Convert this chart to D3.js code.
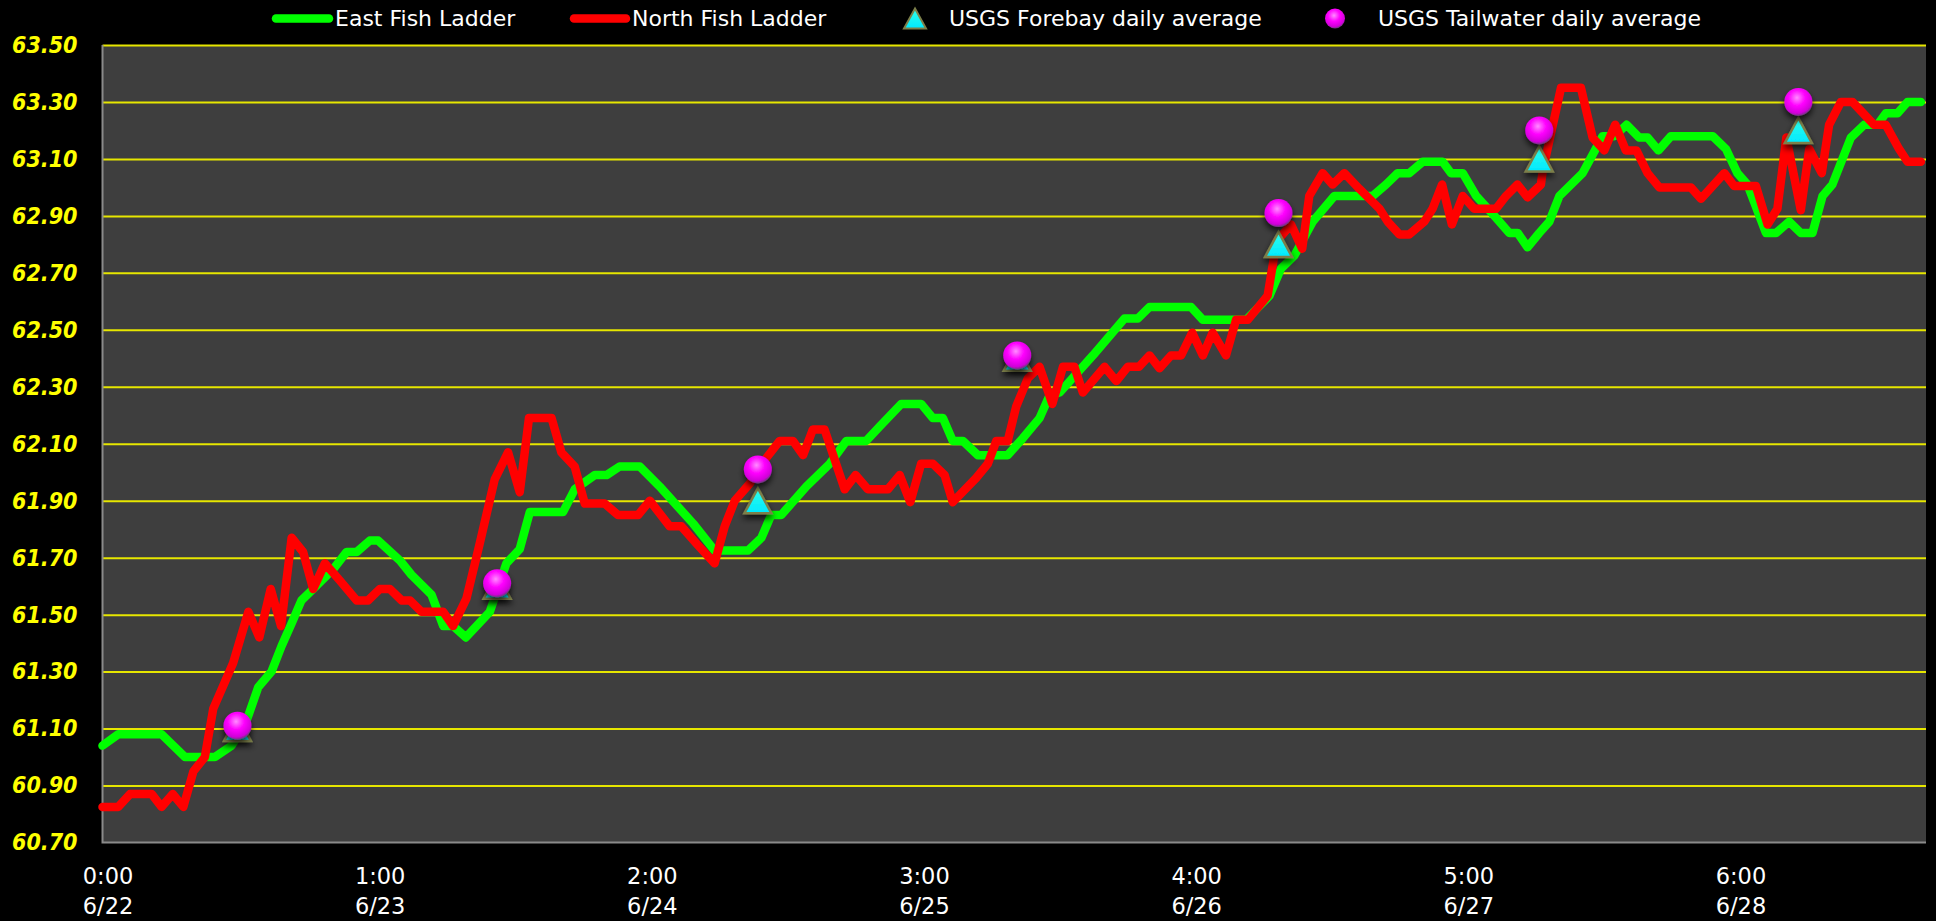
<!DOCTYPE html>
<html>
<head>
<meta charset="utf-8">
<script src="https://cdn.jsdelivr.net/npm/d3@7"></script>
<style>
  html, body { margin: 0; padding: 0; background: #000; }
  svg { display: block; }
</style>
</head>
<body>
<script>
// ---------------- DATA ----------------
// x = days since 6/22 0:00, y = water temperature (°F)
const eastFishLadder = [
  [0.000,61.04],[0.058,61.08],[0.217,61.08],[0.303,61.00],[0.413,61.00],[0.474,61.04],
  [0.523,61.11],[0.572,61.245],[0.621,61.30],[0.658,61.39],[0.695,61.47],[0.731,61.55],
  [0.774,61.59],[0.848,61.66],[0.897,61.72],[0.934,61.72],[0.982,61.76],[1.013,61.76],
  [1.093,61.69],[1.135,61.64],[1.209,61.57],[1.252,61.46],[1.289,61.46],[1.335,61.42],
  [1.423,61.51],[1.484,61.68],[1.533,61.73],[1.570,61.86],[1.692,61.86],[1.735,61.94],
  [1.809,61.99],[1.852,61.99],[1.900,62.02],[1.974,62.02],[2.047,61.95],[2.170,61.82],
  [2.249,61.725],[2.372,61.725],[2.421,61.77],[2.457,61.85],[2.494,61.85],[2.586,61.95],
  [2.672,62.03],[2.733,62.11],[2.806,62.11],[2.855,62.16],[2.935,62.24],[3.008,62.24],
  [3.051,62.19],[3.088,62.19],[3.124,62.11],[3.161,62.11],[3.216,62.06],[3.326,62.06],
  [3.382,62.12],[3.443,62.19],[3.480,62.27],[3.517,62.28],[3.639,62.41],[3.755,62.54],
  [3.804,62.54],[3.847,62.58],[4.000,62.58],[4.043,62.535],[4.202,62.535],[4.288,62.62],
  [4.330,62.715],[4.379,62.76],[4.447,62.88],[4.526,62.97],[4.667,62.97],[4.716,63.01],
  [4.759,63.05],[4.801,63.05],[4.851,63.09],[4.924,63.09],[4.955,63.05],[4.998,63.05],
  [5.047,62.97],[5.114,62.90],[5.169,62.84],[5.200,62.84],[5.236,62.79],[5.279,62.84],
  [5.316,62.88],[5.353,62.97],[5.438,63.05],[5.512,63.18],[5.555,63.18],[5.600,63.22],
  [5.646,63.175],[5.677,63.175],[5.717,63.13],[5.763,63.18],[5.916,63.18],[5.965,63.135],
  [6.007,63.05],[6.044,63.01],[6.112,62.84],[6.149,62.84],[6.197,62.88],[6.240,62.84],
  [6.283,62.84],[6.320,62.97],[6.356,63.01],[6.424,63.175],[6.473,63.22],[6.522,63.22],
  [6.552,63.26],[6.595,63.26],[6.632,63.30],[6.681,63.30]
];
const northFishLadder = [
  [0.000,60.825],[0.058,60.825],[0.101,60.87],[0.181,60.87],[0.217,60.825],[0.258,60.87],
  [0.297,60.825],[0.334,60.95],[0.376,61.00],[0.407,61.17],[0.480,61.33],[0.536,61.51],
  [0.576,61.42],[0.618,61.59],[0.656,61.46],[0.695,61.77],[0.737,61.72],[0.774,61.59],
  [0.817,61.68],[0.872,61.62],[0.934,61.55],[0.976,61.55],[1.019,61.59],[1.056,61.59],
  [1.099,61.55],[1.130,61.55],[1.172,61.51],[1.252,61.51],[1.288,61.46],[1.337,61.556],
  [1.386,61.75],[1.441,61.975],[1.490,62.07],[1.533,61.93],[1.567,62.19],[1.650,62.19],
  [1.686,62.07],[1.735,62.02],[1.772,61.89],[1.845,61.89],[1.894,61.85],[1.968,61.85],
  [2.011,61.90],[2.084,61.81],[2.127,61.81],[2.182,61.75],[2.249,61.68],[2.286,61.81],
  [2.323,61.90],[2.378,61.96],[2.439,62.05],[2.488,62.11],[2.537,62.11],[2.574,62.06],
  [2.610,62.15],[2.653,62.15],[2.727,61.94],[2.767,61.99],[2.812,61.94],[2.886,61.94],
  [2.929,61.99],[2.968,61.895],[3.008,62.03],[3.051,62.03],[3.094,61.99],[3.124,61.895],
  [3.210,61.98],[3.253,62.03],[3.284,62.11],[3.326,62.11],[3.357,62.23],[3.400,62.33],
  [3.443,62.37],[3.490,62.24],[3.529,62.37],[3.571,62.37],[3.602,62.28],[3.682,62.37],
  [3.725,62.32],[3.767,62.37],[3.808,62.37],[3.847,62.41],[3.884,62.365],[3.926,62.41],
  [3.963,62.41],[4.004,62.49],[4.043,62.41],[4.079,62.49],[4.128,62.41],[4.165,62.535],
  [4.208,62.535],[4.281,62.62],[4.314,62.81],[4.367,62.87],[4.408,62.785],[4.434,62.97],
  [4.483,63.05],[4.520,63.01],[4.563,63.05],[4.618,62.995],[4.692,62.925],[4.722,62.88],
  [4.765,62.835],[4.801,62.835],[4.857,62.88],[4.887,62.925],[4.922,63.01],[4.958,62.87],
  [4.998,62.97],[5.040,62.925],[5.120,62.925],[5.157,62.97],[5.199,63.01],[5.236,62.965],
  [5.285,63.01],[5.292,63.06],[5.359,63.35],[5.432,63.35],[5.475,63.175],[5.518,63.13],
  [5.558,63.22],[5.597,63.13],[5.636,63.13],[5.677,63.05],[5.720,63.00],[5.836,63.00],
  [5.873,62.96],[5.959,63.05],[5.995,63.005],[6.075,63.005],[6.118,62.87],[6.154,62.925],
  [6.187,63.175],[6.240,62.92],[6.271,63.135],[6.317,63.05],[6.344,63.22],[6.387,63.30],
  [6.430,63.30],[6.509,63.22],[6.552,63.22],[6.601,63.135],[6.632,63.09],[6.681,63.09]
];
const usgsDays      = [0.496, 1.450, 2.408, 3.361, 4.321, 5.279, 6.231];
const usgsForebay   = [61.10, 61.60, 61.90, 62.40, 62.80, 63.10, 63.20];
const usgsTailwater = [61.11, 61.61, 62.01, 62.41, 62.91, 63.20, 63.30];

const xTickValues = [0, 1, 2, 3, 4, 5, 6];
const xTickTimes  = ["0:00", "1:00", "2:00", "3:00", "4:00", "5:00", "6:00"];
const xTickDates  = ["6/22", "6/23", "6/24", "6/25", "6/26", "6/27", "6/28"];
const yTickValues = [60.70, 60.90, 61.10, 61.30, 61.50, 61.70, 61.90, 62.10,
                     62.30, 62.50, 62.70, 62.90, 63.10, 63.30, 63.50];

const seriesNames = ["East Fish Ladder", "North Fish Ladder",
                     "USGS Forebay daily average", "USGS Tailwater daily average"];

// ---------------- LAYOUT ----------------
const W = 1936, H = 921;
const plot = { left: 102.5, right: 1926, top: 45, bottom: 842.5 };
const textFont = "'DejaVu Sans', Verdana, sans-serif";

const svg = d3.select("body").append("svg").attr("width", W).attr("height", H);
const defs = svg.append("defs");

// gradients / shadows for markers
const rg = defs.append("radialGradient").attr("id", "ballGrad")
  .attr("cx", "45%").attr("cy", "35%").attr("r", "65%");
rg.append("stop").attr("offset", "0%").attr("stop-color", "#ff8cff");
rg.append("stop").attr("offset", "45%").attr("stop-color", "#ff00ff");
rg.append("stop").attr("offset", "85%").attr("stop-color", "#d000d8");
rg.append("stop").attr("offset", "100%").attr("stop-color", "#6a3a78");

const tg = defs.append("linearGradient").attr("id", "triGrad")
  .attr("x1", "0").attr("y1", "0").attr("x2", "0").attr("y2", "1");
tg.append("stop").attr("offset", "0%").attr("stop-color", "#30ffe8");
tg.append("stop").attr("offset", "100%").attr("stop-color", "#00e8ff");

const sh = defs.append("filter").attr("id", "shadow")
  .attr("x", "-50%").attr("y", "-50%").attr("width", "200%").attr("height", "200%");
sh.append("feDropShadow").attr("dx", 0).attr("dy", 4).attr("stdDeviation", 3)
  .attr("flood-color", "#000").attr("flood-opacity", 0.75);

const x = d3.scaleLinear().domain([0, 6.7]).range([plot.left, plot.right]);
const y = d3.scaleLinear().domain([60.7, 63.5]).range([plot.bottom, plot.top]);

// plot background
svg.append("rect")
  .attr("x", plot.left).attr("y", plot.top)
  .attr("width", plot.right - plot.left).attr("height", plot.bottom - plot.top)
  .attr("fill", "#3e3e3e");

// gridlines
const grid = svg.append("g").attr("transform", `translate(${plot.left},0)`)
  .call(d3.axisLeft(y).tickValues(yTickValues.slice(1))
    .tickSize(-(plot.right - plot.left)).tickFormat(""));
grid.select(".domain").remove();
grid.selectAll(".tick line").attr("stroke", "#e6e600").attr("stroke-width", 2);

// y axis labels
const yAxis = svg.append("g").attr("transform", `translate(${plot.left},0)`)
  .call(d3.axisLeft(y).tickValues(yTickValues).tickSize(0).tickPadding(25)
    .tickFormat(d3.format(".2f")));
yAxis.select(".domain").remove();
yAxis.selectAll("text")
  .attr("fill", "#ffff00")
  .style("font-family", "'DejaVu Sans Condensed', 'DejaVu Sans', sans-serif")
  .style("font-weight", "bold").style("font-style", "italic")
  .style("font-size", "23px");

// x axis labels
const xAxis = svg.append("g").attr("transform", `translate(0,${plot.bottom})`)
  .call(d3.axisBottom(x).tickValues(xTickValues).tickSize(0).tickFormat(""));
xAxis.select(".domain").remove();
xAxis.selectAll(".tick text").remove();
xAxis.selectAll(".tick").each(function(d, i) {
  const t = d3.select(this).append("text")
    .attr("fill", "#ffffff").attr("text-anchor", "middle")
    .style("font-family", textFont).style("font-size", "22.5px");
  t.append("tspan").attr("x", 5).attr("y", 41).text(xTickTimes[i]);
  t.append("tspan").attr("x", 5).attr("y", 71).text(xTickDates[i]);
});

// plot border (left & bottom)
svg.append("path")
  .attr("d", `M${plot.left},${plot.top} V${plot.bottom} H${plot.right}`)
  .attr("fill", "none").attr("stroke", "#8a8a8a").attr("stroke-width", 2);

// lines
const line = d3.line().x(d => x(d[0])).y(d => y(d[1]));
svg.append("path").datum(eastFishLadder).attr("d", line)
  .attr("fill", "none").attr("stroke", "#00ff00").attr("stroke-width", 8.5)
  .attr("stroke-linejoin", "round").attr("stroke-linecap", "round");
svg.append("path").datum(northFishLadder).attr("d", line)
  .attr("fill", "none").attr("stroke", "#ff0000").attr("stroke-width", 8.5)
  .attr("stroke-linejoin", "round").attr("stroke-linecap", "round");

// markers
const triPath = (w, h) => `M0,${-h / 2} L${w / 2},${h / 2} L${-w / 2},${h / 2} Z`;
svg.append("g").selectAll("path").data(usgsDays.map((d, i) => [d, usgsForebay[i]]))
  .join("path")
  .attr("transform", d => `translate(${x(d[0])},${y(d[1])})`)
  .attr("d", triPath(27, 25))
  .attr("fill", "url(#triGrad)").attr("stroke", "#7c7f4a").attr("stroke-width", 2.5)
  .attr("stroke-linejoin", "miter")
  .attr("filter", "url(#shadow)");
svg.append("g").selectAll("circle").data(usgsDays.map((d, i) => [d, usgsTailwater[i]]))
  .join("circle")
  .attr("cx", d => x(d[0])).attr("cy", d => y(d[1])).attr("r", 14)
  .attr("fill", "url(#ballGrad)")
  .attr("filter", "url(#shadow)");

// legend
const lg = svg.append("g");
const legendY = 18.5;
const legendText = (xPos, s) => lg.append("text")
  .attr("x", xPos).attr("y", legendY).attr("dy", "0.36em")
  .attr("fill", "#ffffff")
  .style("font-family", textFont).style("font-size", "22px").text(s);

lg.append("line").attr("x1", 276).attr("x2", 329).attr("y1", legendY).attr("y2", legendY)
  .attr("stroke", "#00ff00").attr("stroke-width", 8.5).attr("stroke-linecap", "round");
legendText(335, seriesNames[0]);
lg.append("line").attr("x1", 574).attr("x2", 626).attr("y1", legendY).attr("y2", legendY)
  .attr("stroke", "#ff0000").attr("stroke-width", 8.5).attr("stroke-linecap", "round");
legendText(632, seriesNames[1]);
lg.append("path").attr("transform", `translate(915,${legendY})`).attr("d", triPath(22, 20))
  .attr("fill", "url(#triGrad)").attr("stroke", "#7c7f4a").attr("stroke-width", 2);
legendText(949, seriesNames[2]);
lg.append("circle").attr("cx", 1335).attr("cy", legendY).attr("r", 10)
  .attr("fill", "url(#ballGrad)");
legendText(1378, seriesNames[3]);
</script>
</body>
</html>
